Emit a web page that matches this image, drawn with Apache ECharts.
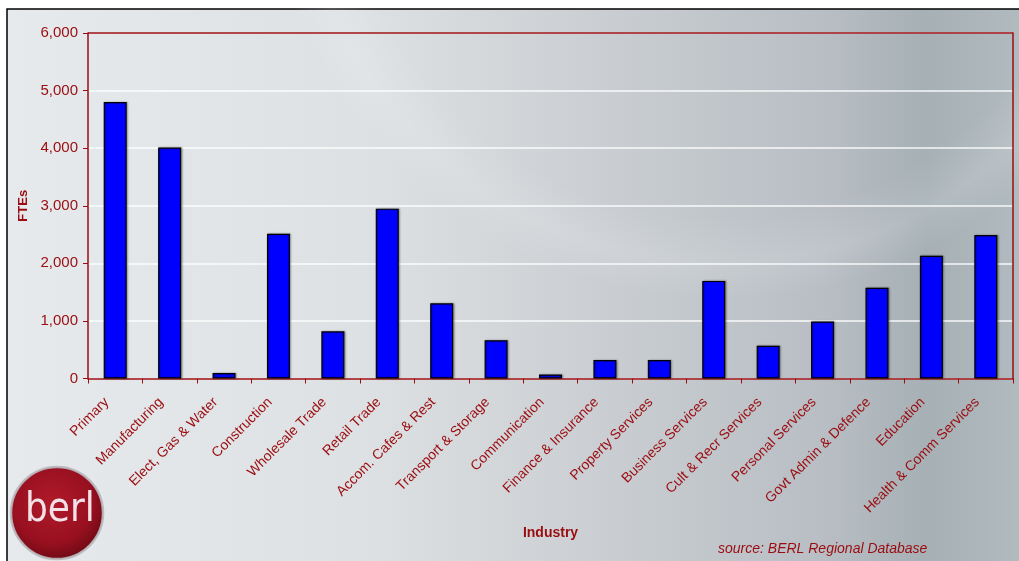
<!DOCTYPE html>
<html><head><meta charset="utf-8">
<script src="https://cdn.jsdelivr.net/npm/echarts@6/dist/echarts.min.js"></script>
<style>html,body{margin:0;padding:0;background:#fff}#c{width:1019px;height:561px}</style>
</head><body><div id="c"></div>
<script>
const categories = ["Primary","Manufacturing","Elect, Gas & Water","Construction","Wholesale Trade","Retail Trade","Accom. Cafes & Rest","Transport & Storage","Communication","Finance & Insurance","Property Services","Business Services","Cult & Recr Services","Personal Services","Govt Admin & Defence","Education","Health & Comm Services"];
const ftes = [4800, 4010, 95, 2515, 820, 2950, 1305, 665, 70, 320, 320, 1695, 570, 990, 1575, 2130, 2490];
const yTicks = [0, 1000, 2000, 3000, 4000, 5000, 6000];
const yMax = 6000;

const red = '#9a0c10';
const chart = echarts.init(document.getElementById('c'), null, {renderer:'canvas'});
chart.setOption({
  animation:false,
  graphic:[
    {type:'rect', z:-10, shape:{x:7,y:9,width:1020,height:560},
     style:{fill:new echarts.graphic.LinearGradient(0,0,1,0,[
       {offset:0,color:'#e6eaec'},{offset:0.35,color:'#dde1e3'},{offset:0.6,color:'#c9cdd1'},
       {offset:0.8,color:'#b8bec4'},{offset:0.9,color:'#a6b0b5'},{offset:1,color:'#b2bbbf'}]),
       stroke:'#000', lineWidth:1.5}},
    {type:'circle', z:-9, shape:{cx:720,cy:-160,r:460}, silent:true,
     style:{fill:new echarts.graphic.RadialGradient(0.5,0.5,0.5,[
       {offset:0,color:'rgba(255,255,255,0)'},{offset:0.82,color:'rgba(255,255,255,0)'},{offset:0.92,color:'rgba(255,255,255,0.12)'},{offset:1,color:'rgba(255,255,255,0)'}])}},
    {type:'circle', z:10, shape:{cx:57,cy:513,r:46},
     style:{fill:new echarts.graphic.RadialGradient(0.45,0.4,0.6,[
       {offset:0,color:'#b01a2a'},{offset:0.7,color:'#981020'},{offset:1,color:'#700a14'}]),
       stroke:'rgba(185,185,190,0.9)', lineWidth:2.5}},
    {type:'text', z:11, left:25, top:491,
     style:{text:'berl', fill:'#f2e2e8', font:'normal 40px "DejaVu Sans Condensed", "Liberation Sans Narrow", sans-serif'}},
    {type:'text', z:11, left:718, top:542,
     style:{text:'source: BERL Regional Database', fill:red, font:'italic 14px "Liberation Sans", Arial, sans-serif'}}
  ],
  grid:{left:88, right:6, top:33, bottom:182.5},
  xAxis:[{
    type:'category', data:categories,
    name:'Industry', nameLocation:'middle', nameGap:148,
    nameTextStyle:{color:red, fontWeight:'bold', fontSize:14, fontFamily:'Liberation Sans'},
    axisLine:{lineStyle:{color:red, width:1.5}},
    axisTick:{show:true, length:5, lineStyle:{color:red}},
    axisLabel:{rotate:45, color:red, fontSize:14, fontFamily:'Liberation Sans', margin:13, interval:0, padding:[0,12,0,0]}
  }],
  yAxis:[{
    type:'value', min:0, max:yMax, interval:1000,
    name:'FTEs', nameLocation:'middle', nameGap:52, nameRotate:90,
    nameTextStyle:{color:red, fontWeight:'bold', fontSize:13, fontFamily:'Liberation Sans'},
    axisLine:{show:true, lineStyle:{color:red, width:1.5}},
    axisTick:{show:true, length:5, lineStyle:{color:red}},
    axisLabel:{color:red, fontSize:15, fontFamily:'Liberation Sans', margin:10,
      formatter:v => yTicks.includes(v) ? v.toLocaleString('en-US') : ''},
    splitLine:{show:true, lineStyle:{color:'rgba(255,255,255,0.9)', width:1.5}}
  },{
    type:'value', min:0, max:yMax, interval:1000, position:'right', z:10,
    axisLine:{show:true, lineStyle:{color:red, width:1.5}}, axisTick:{show:false},
    axisLabel:{show:false}, splitLine:{show:false}
  }],
  series:[{
    type:'bar', data:ftes, barWidth:23,
    itemStyle:{color:'#0000ff', borderColor:'#000', borderWidth:1.2,
      shadowColor:'rgba(0,0,0,0.35)', shadowBlur:2, shadowOffsetX:1, shadowOffsetY:0},
    markLine:{symbol:'none', silent:true, animation:false, label:{show:false},
      lineStyle:{color:red, width:1.5, type:'solid'}, data:[{yAxis:yMax}]}
  }]
});
</script></body></html>
